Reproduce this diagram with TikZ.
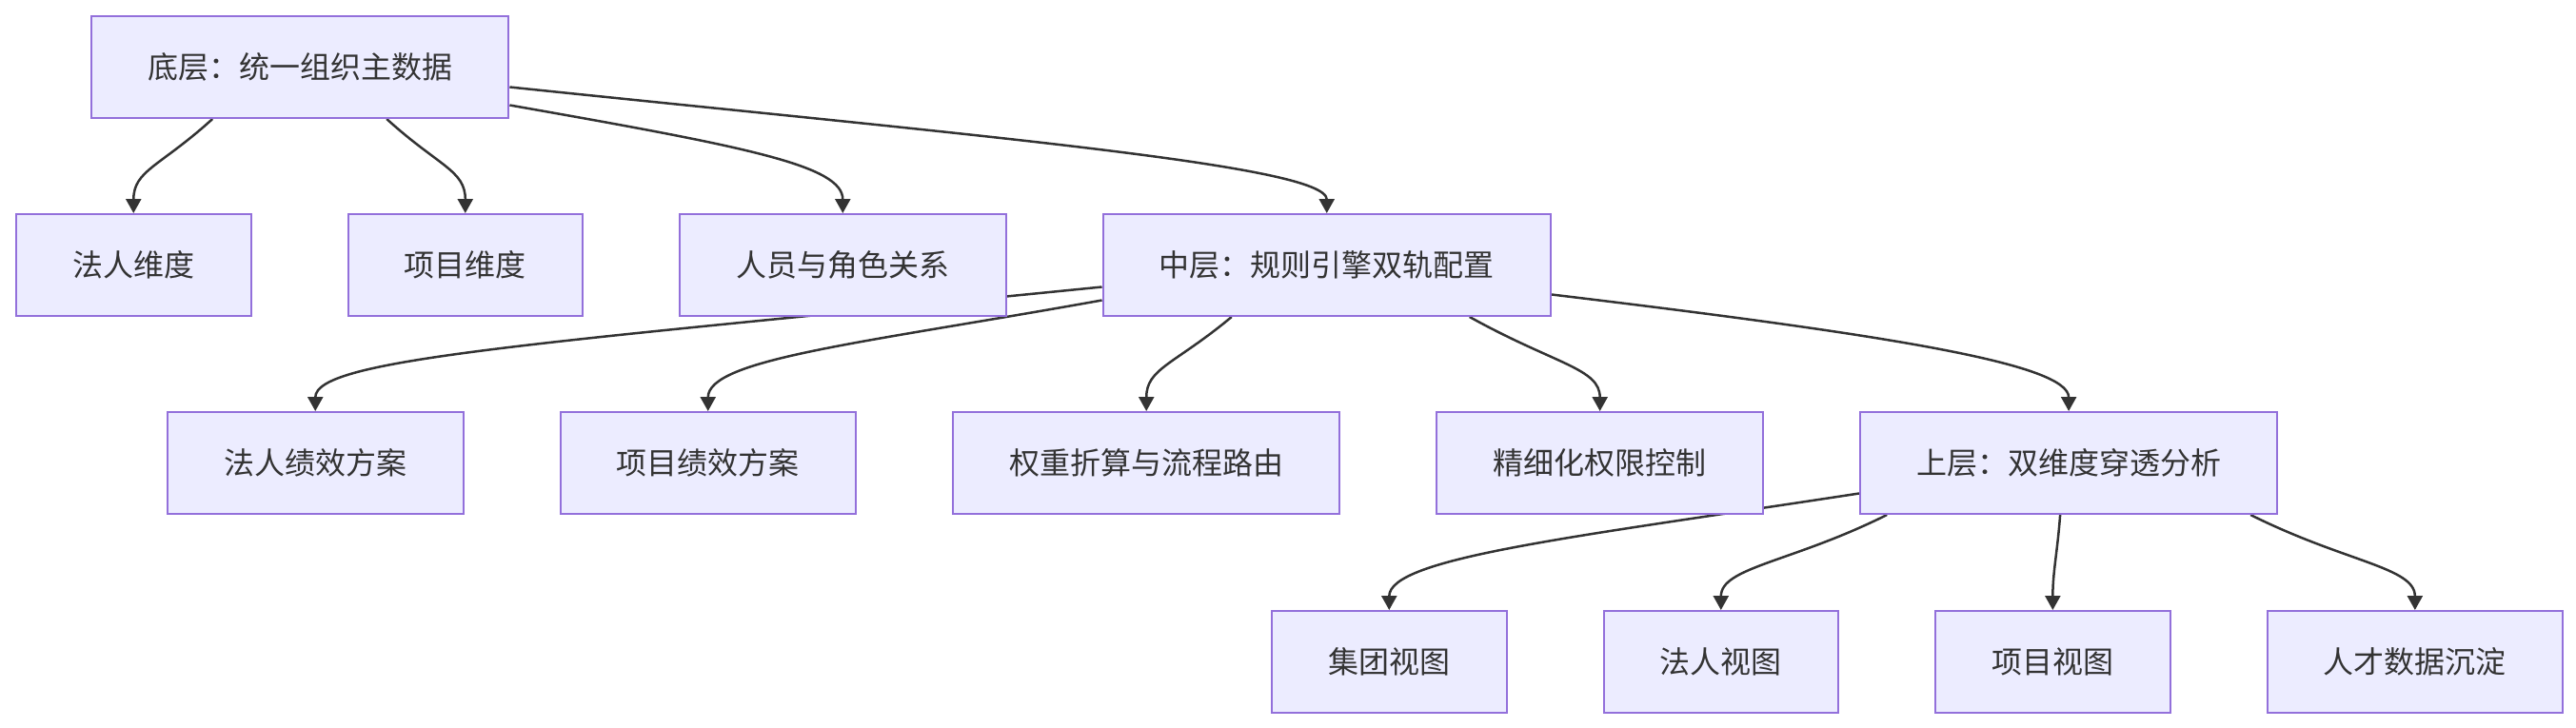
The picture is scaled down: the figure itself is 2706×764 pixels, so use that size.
\documentclass[tikz,border=0pt]{standalone}
\usepackage{fontspec}
\setmainfont{Noto Sans CJK SC}
\usepackage{xcolor}
\usetikzlibrary{arrows.meta,positioning,backgrounds}
\definecolor{nodefill}{HTML}{ECECFF}
\definecolor{nodeline}{HTML}{9370DB}
\definecolor{edgeline}{HTML}{333333}

\begin{document}
\begin{tikzpicture}[
  x=0.1mm, y=-0.1mm,
  font=\fontsize{9.1pt}{11pt}\selectfont,
  node distance=10mm and 10mm,
  box/.style={draw=nodeline, line width=0.2mm, fill=nodefill, text=edgeline, minimum height=10.7mm, inner xsep=5.93mm, inner ysep=0pt},
  arrow/.style={-{Triangle[length=1.5mm,width=1.6mm]}, draw=edgeline, line width=0.25mm}
]
\useasboundingbox (0,0) rectangle (2706,764);
\node[box, anchor=north west] (root) at (95,16) {底层：统一组织主数据};
\node[box, anchor=north west] (dimLegal) at (16,224) {法人维度};
\node[box, right=of dimLegal] (dimProj) {项目维度};
\node[box, right=of dimProj] (dimPeople) {人员与角色关系};
\node[box, right=of dimPeople] (mid) {中层：规则引擎双轨配置};
\node[box, anchor=north west] (planLegal) at (175,432) {法人绩效方案};
\node[box, right=of planLegal] (planProj) {项目绩效方案};
\node[box, right=of planProj] (route) {权重折算与流程路由};
\node[box, right=of route] (perm) {精细化权限控制};
\node[box, right=of perm] (top) {上层：双维度穿透分析};
\node[box, anchor=north west] (viewGroup) at (1335,641) {集团视图};
\node[box, right=of viewGroup] (viewLegal) {法人视图};
\node[box, right=of viewLegal] (viewProj) {项目视图};
\node[box, right=of viewProj] (talent) {人才数据沉淀};
\begin{scope}[on background layer]
\draw[arrow] ([xshift=-9.2mm]root.south) .. controls +(-55,50) and +(0,-45) .. (dimLegal.north);
\draw[arrow] ([xshift=9.1mm]root.south) .. controls +(55,50) and +(0,-45) .. (dimProj.north);
\draw[arrow] ([yshift=-4mm]root.east) .. controls +(250,44) and +(0,-50) .. (dimPeople.north);
\draw[arrow] ([yshift=-2.1mm]root.east) .. controls +(500,52) and +(0,-50) .. (mid.north);
\draw[arrow] ([yshift=-2.3mm]mid.west) .. controls +(-600,60) and +(0,-55) .. (planLegal.north);
\draw[arrow] ([yshift=-3.7mm]mid.west) .. controls +(-250,45) and +(0,-55) .. (planProj.north);
\draw[arrow] ([xshift=-10mm]mid.south) .. controls +(-60,50) and +(0,-45) .. (route.north);
\draw[arrow] ([xshift=15mm]mid.south) .. controls +(90,50) and +(0,-45) .. (perm.north);
\draw[arrow] ([yshift=-3.1mm]mid.east) .. controls +(350,42) and +(0,-50) .. (top.north);
\draw[arrow] ([yshift=-3.2mm]top.west) .. controls +(-300,46) and +(0,-55) .. (viewGroup.north);
\draw[arrow] ([xshift=-19.1mm]top.south) .. controls +(-100,50) and +(0,-45) .. (viewLegal.north);
\draw[arrow] ([xshift=-0.9mm]top.south) .. controls +(-3,40) and +(0,-40) .. (viewProj.north);
\draw[arrow] ([xshift=19.1mm]top.south) .. controls +(100,50) and +(0,-45) .. (talent.north);
\end{scope}
\end{tikzpicture}
\end{document}
